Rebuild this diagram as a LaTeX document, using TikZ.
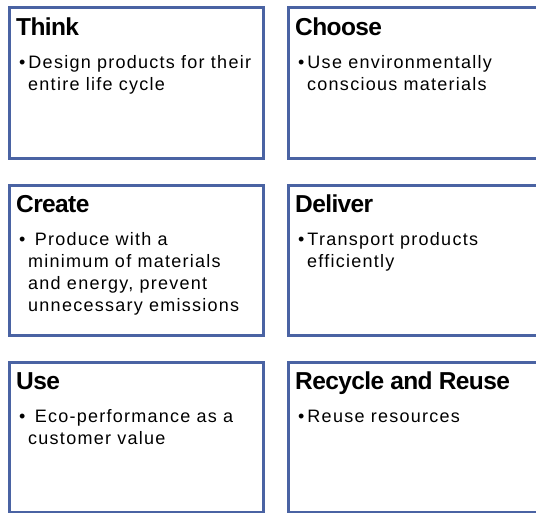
\documentclass[tikz,border=0pt]{standalone}
\usepackage{fontspec}
\setmainfont{Liberation Sans}
\newfontfamily\headfont[LetterSpace=-2.5]{Liberation Sans}
\newfontfamily\bodyfont[LetterSpace=7]{Liberation Sans}
\definecolor{boxblue}{HTML}{4A63A3}
\newcommand{\bul}{\textbullet\hspace{3pt}}
\newcommand{\nl}{\\\hspace*{9pt}}

\begin{document}
\begin{tikzpicture}[
    x=1pt, y=-1pt,
    card/.style={draw=boxblue, line width=3pt, minimum width=254pt, minimum height=150.5pt, anchor=north west, inner sep=0pt},
    head/.style={anchor=base west, inner sep=0pt, font=\headfont\bfseries\fontsize{24.5}{28}\selectfont},
    body/.style={anchor=north west, inner sep=0pt, align=left, font=\bodyfont\fontsize{18}{22}\selectfont},
    ]
    \useasboundingbox (0,0) rectangle (536,512);
    \clip (0,0) rectangle (536,512);
    \node[card] (think) at (7.5,6) {};
    \node[card] (choose) at (286.5,6) {};
    \node[card] (create) at (7.5,183.5) {};
    \node[card] (deliver) at (286.5,183.5) {};
    \node[card] (use) at (7.5,360.5) {};
    \node[card] (recycle) at (286.5,360.5) {};
    \node[head] (think-h) at ([shift={(8.5,29)}]think.north west) {Think};
    \node[head] (choose-h) at ([shift={(8.5,29)}]choose.north west) {Choose};
    \node[head] (create-h) at ([shift={(8.5,29)}]create.north west) {Create};
    \node[head] (deliver-h) at ([shift={(8.5,29)}]deliver.north west) {Deliver};
    \node[head] (use-h) at ([shift={(8.5,29)}]use.north west) {Use};
    \node[head] (recycle-h) at ([shift={(8.5,29)}]recycle.north west) {Recycle and Reuse};
    \node[body] (think-t) at ([shift={(11.5,49)}]think.north west) {\bul Design products for their\nl entire life cycle};
    \node[body] (choose-t) at ([shift={(11.5,49)}]choose.north west) {\bul Use environmentally\nl conscious materials};
    \node[body] (create-t) at ([shift={(11.5,49)}]create.north west) {\bul{} Produce with a\nl minimum of materials\nl and energy, prevent\nl unnecessary emissions};
    \node[body] (deliver-t) at ([shift={(11.5,49)}]deliver.north west) {\bul Transport products\nl efficiently};
    \node[body] (use-t) at ([shift={(11.5,49)}]use.north west) {\bul{} Eco-performance as a\nl customer value};
    \node[body] (recycle-t) at ([shift={(11.5,49)}]recycle.north west) {\bul Reuse resources};
\end{tikzpicture}
\end{document}
